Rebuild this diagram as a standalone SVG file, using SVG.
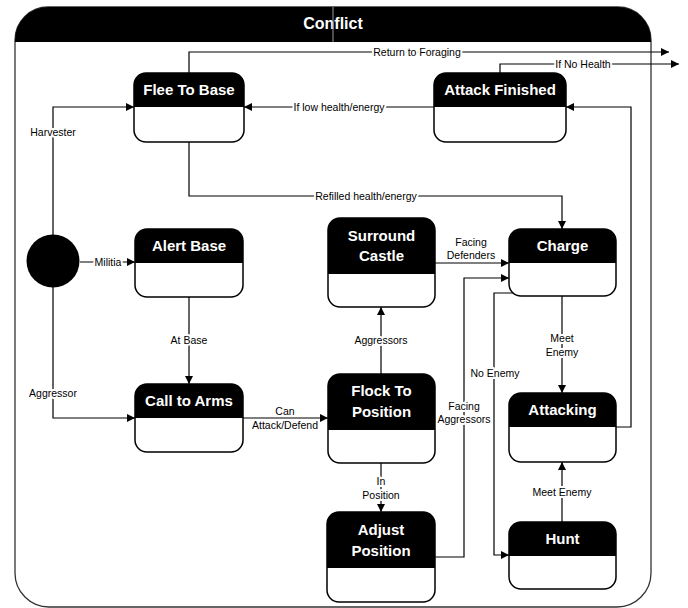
<svg xmlns="http://www.w3.org/2000/svg" width="688" height="608" viewBox="0 0 688 608">
<style>
.box{fill:#fff;stroke:#000;stroke-width:1.5}
.hdr{fill:#000}
.title{font-family:"Liberation Sans",Arial,sans-serif;font-weight:bold;font-size:15px;fill:#fff;text-anchor:middle}
.ln{fill:none;stroke:#000;stroke-width:1.2}
.lbl{font-family:"Liberation Sans",Arial,sans-serif;font-size:10.5px;fill:#000;text-anchor:middle;stroke:#fff;stroke-width:4;paint-order:stroke;stroke-linejoin:round}
</style>
<defs>
<marker id="ah" viewBox="0 0 10 10" refX="10" refY="5" markerWidth="9" markerHeight="8" markerUnits="userSpaceOnUse" orient="auto">
<path d="M0,0 L10,5 L0,10 Z" fill="#000"/>
</marker>
</defs>
<rect width="688" height="608" fill="#fff"/>
<g id="container">
<path d="M48,7 H618 A33,33 0 0 1 651,40 V573 A34,34 0 0 1 617,607 H49 A34,34 0 0 1 15,573 V40 A33,33 0 0 1 48,7 Z" fill="none" stroke="#333" stroke-width="1.3"/>
<path d="M15,42 V40 A33,33 0 0 1 48,7 H618 A33,33 0 0 1 651,40 V42 Z" fill="#000"/>
<text x="333" y="29" font-family="Liberation Sans,Arial,sans-serif" font-weight="bold" font-size="16" fill="#fff" text-anchor="middle">Conflict</text>
<line x1="333" y1="7" x2="333" y2="42" stroke="#999" stroke-width="1"/>
</g>
<g id="connectors">
<path class="ln" d="M53,235 V107 H134" marker-end="url(#ah)"/>
<path class="ln" d="M80,262 H135" marker-end="url(#ah)"/>
<path class="ln" d="M53,287 V418 H135" marker-end="url(#ah)"/>
<path class="ln" d="M189,297 V384" marker-end="url(#ah)"/>
<path class="ln" d="M243,418 H328" marker-end="url(#ah)"/>
<path class="ln" d="M381,374 V307" marker-end="url(#ah)"/>
<path class="ln" d="M435,263 H509" marker-end="url(#ah)"/>
<path class="ln" d="M189,142 V196 H562 V229" marker-end="url(#ah)"/>
<path class="ln" d="M434,107 H244" marker-end="url(#ah)"/>
<path class="ln" d="M189,73 V52 H669" marker-end="url(#ah)"/>
<path class="ln" d="M500,73 V64 H679" marker-end="url(#ah)"/>
<path class="ln" d="M616,427 H631 V107 H566" marker-end="url(#ah)"/>
<path class="ln" d="M562,296 V393" marker-end="url(#ah)"/>
<path class="ln" d="M513,293 H494 V555 H509" marker-end="url(#ah)"/>
<path class="ln" d="M435,557 H464 V278 H509" marker-end="url(#ah)"/>
<path class="ln" d="M562,522 V462" marker-end="url(#ah)"/>
<path class="ln" d="M381,463 V512" marker-end="url(#ah)"/>
<text class="lbl" x="53" y="136">Harvester</text>
<text class="lbl" x="108" y="266">Militia</text>
<text class="lbl" x="53" y="397">Aggressor</text>
<text class="lbl" x="189" y="344">At Base</text>
<text class="lbl" x="285" y="415">Can</text>
<text class="lbl" x="285" y="429">Attack/Defend</text>
<text class="lbl" x="381" y="344">Aggressors</text>
<text class="lbl" x="471" y="246">Facing</text>
<text class="lbl" x="471" y="259">Defenders</text>
<text class="lbl" x="366" y="200">Refilled health/energy</text>
<text class="lbl" x="339" y="111">If low health/energy</text>
<text class="lbl" x="417" y="56">Return to Foraging</text>
<text class="lbl" x="583" y="68">If No Health</text>
<text class="lbl" x="562" y="342">Meet</text>
<text class="lbl" x="562" y="356">Enemy</text>
<text class="lbl" x="495" y="377">No Enemy</text>
<text class="lbl" x="464" y="410">Facing</text>
<text class="lbl" x="464" y="423">Aggressors</text>
<text class="lbl" x="381" y="485">In</text>
<text class="lbl" x="381" y="499">Position</text>
<text class="lbl" x="562" y="496">Meet Enemy</text>
</g>
<g id="initial"><circle cx="53" cy="261" r="26.5" fill="#000"/></g>
<g id="flee-to-base">
<rect class="box" x="134" y="73" width="110" height="69" rx="12"/>
<path class="hdr" d="M134,107 V85 A12,12 0 0 1 146,73 H232 A12,12 0 0 1 244,85 V107 Z"/>
<text class="title" x="189" y="95">Flee To Base</text>
</g>
<g id="attack-finished">
<rect class="box" x="434" y="73" width="132" height="69" rx="12"/>
<path class="hdr" d="M434,107 V85 A12,12 0 0 1 446,73 H554 A12,12 0 0 1 566,85 V107 Z"/>
<text class="title" x="500" y="95">Attack Finished</text>
</g>
<g id="alert-base">
<rect class="box" x="135" y="229" width="108" height="68" rx="12"/>
<path class="hdr" d="M135,263 V241 A12,12 0 0 1 147,229 H231 A12,12 0 0 1 243,241 V263 Z"/>
<text class="title" x="189" y="251">Alert Base</text>
</g>
<g id="surround-castle">
<rect class="box" x="328" y="218" width="107" height="89" rx="12"/>
<path class="hdr" d="M328,274 V230 A12,12 0 0 1 340,218 H423 A12,12 0 0 1 435,230 V274 Z"/>
<text class="title" x="381.5" y="241">Surround</text>
<text class="title" x="381.5" y="261">Castle</text>
</g>
<g id="charge">
<rect class="box" x="509" y="229" width="107" height="67" rx="12"/>
<path class="hdr" d="M509,263 V241 A12,12 0 0 1 521,229 H604 A12,12 0 0 1 616,241 V263 Z"/>
<text class="title" x="562.5" y="251">Charge</text>
</g>
<g id="call-to-arms">
<rect class="box" x="135" y="384" width="108" height="68" rx="12"/>
<path class="hdr" d="M135,418 V396 A12,12 0 0 1 147,384 H231 A12,12 0 0 1 243,396 V418 Z"/>
<text class="title" x="189" y="406">Call to Arms</text>
</g>
<g id="flock-to-position">
<rect class="box" x="328" y="374" width="107" height="89" rx="12"/>
<path class="hdr" d="M328,430 V386 A12,12 0 0 1 340,374 H423 A12,12 0 0 1 435,386 V430 Z"/>
<text class="title" x="381.5" y="396">Flock To</text>
<text class="title" x="381.5" y="417">Position</text>
</g>
<g id="attacking">
<rect class="box" x="509" y="393" width="107" height="69" rx="12"/>
<path class="hdr" d="M509,427 V405 A12,12 0 0 1 521,393 H604 A12,12 0 0 1 616,405 V427 Z"/>
<text class="title" x="562.5" y="415">Attacking</text>
</g>
<g id="adjust-position">
<rect class="box" x="327" y="512" width="108" height="90" rx="12"/>
<path class="hdr" d="M327,568 V524 A12,12 0 0 1 339,512 H423 A12,12 0 0 1 435,524 V568 Z"/>
<text class="title" x="381" y="535">Adjust</text>
<text class="title" x="381" y="556">Position</text>
</g>
<g id="hunt">
<rect class="box" x="509" y="522" width="107" height="67" rx="12"/>
<path class="hdr" d="M509,556 V534 A12,12 0 0 1 521,522 H604 A12,12 0 0 1 616,534 V556 Z"/>
<text class="title" x="562.5" y="544">Hunt</text>
</g>
</svg>
